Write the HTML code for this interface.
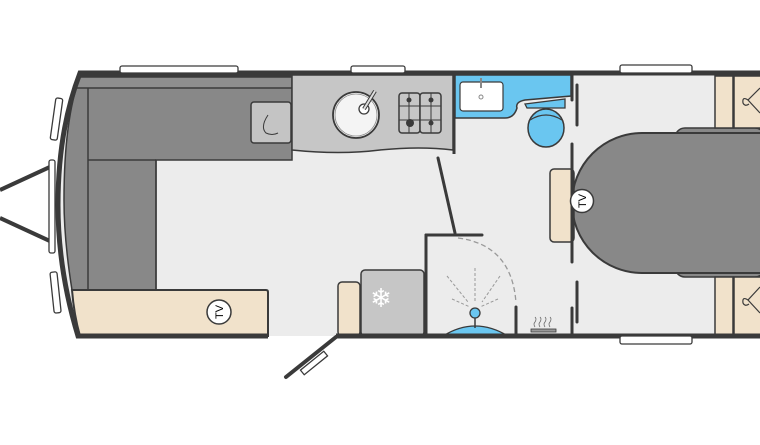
<!DOCTYPE html>
<html><head><meta charset="utf-8"><style>html,body{margin:0;padding:0;background:#fff}svg{display:block}</style></head>
<body>
<svg width="760" height="445" viewBox="0 0 760 445" xmlns="http://www.w3.org/2000/svg" font-family="Liberation Sans, sans-serif">
<!-- drawbar -->
<line x1="0" y1="190" x2="52" y2="166" stroke="#3a3a3a" stroke-width="4"/>
<line x1="0" y1="218" x2="52" y2="242" stroke="#3a3a3a" stroke-width="4"/>
<!-- floor -->
<path d="M80,73 L760,73 L760,336 L80,336 Q60,270 60,205 Q60,130 80,73 Z" fill="#ececec"/>
<!-- sofa dark -->
<path d="M80,76 L292,76 L292,160 L156,160 L156,290 L72,290 Q64,240 64,200 Q64,120 80,76 Z" fill="#888" stroke="#3a3a3a" stroke-width="1.5"/>
<path d="M78,77 L292,77 L292,88 L74,88" fill="#8e8e8e" stroke="#3a3a3a" stroke-width="1.5"/>
<line x1="88" y1="88" x2="88" y2="290" stroke="#3a3a3a" stroke-width="1.5"/>
<line x1="88" y1="160" x2="156" y2="160" stroke="#3a3a3a" stroke-width="1.5"/>
<line x1="156" y1="160" x2="156" y2="290" stroke="#3a3a3a" stroke-width="1.5"/>
<rect x="251" y="102" width="40" height="41" rx="3" fill="#c4c4c4" stroke="#3a3a3a" stroke-width="1.5"/>
<path d="M268,115 Q260,127 266,133 Q272,136 278,133" fill="none" stroke="#3a3a3a" stroke-width="1"/>
<!-- beige bench -->
<path d="M72,290 L266,290 Q268,290 268,292 L268,336 L80,336 Q74,315 72,290 Z" fill="#f1e2cb" stroke="#3a3a3a" stroke-width="2"/>
<circle cx="219" cy="312" r="12" fill="#fff" stroke="#3a3a3a" stroke-width="1.5"/>
<text x="0" y="0" font-size="11" text-anchor="middle" transform="translate(223,312) rotate(-90)">TV</text>
<!-- kitchen -->
<path d="M292,75 L453,75 L453,150 Q420,146 380,150 Q340,155 292,150 Z" fill="#c6c6c6" stroke="#3a3a3a" stroke-width="1.5"/>
<line x1="454" y1="75" x2="454" y2="154" stroke="#3a3a3a" stroke-width="3"/>
<circle cx="356" cy="115" r="23" fill="#f4f4f4" stroke="#3a3a3a" stroke-width="1.8"/>
<circle cx="356" cy="115" r="21" fill="none" stroke="#888" stroke-width="0.8"/>
<circle cx="364" cy="109" r="5" fill="#fff" stroke="#3a3a3a" stroke-width="1.3"/>
<line x1="364" y1="109" x2="375" y2="91" stroke="#3a3a3a" stroke-width="4"/>
<line x1="364" y1="109" x2="375" y2="91" stroke="#ddd" stroke-width="2"/>
<rect x="399" y="93" width="21" height="40" rx="3" fill="#c6c6c6" stroke="#3a3a3a" stroke-width="1.5"/>
<rect x="420" y="93" width="21" height="40" rx="3" fill="#c6c6c6" stroke="#3a3a3a" stroke-width="1.5"/>
<path d="M399,106 H441 M399,120 H441 M409,93 V133 M431,93 V133" stroke="#3a3a3a" stroke-width="1"/>
<circle cx="409" cy="100" r="2.5" fill="#3a3a3a"/><circle cx="431" cy="100" r="2.5" fill="#3a3a3a"/>
<circle cx="410" cy="123" r="4" fill="#3a3a3a"/><circle cx="431" cy="123" r="2.5" fill="#3a3a3a"/>
<!-- bathroom blue -->
<path d="M455,75 L571,75 L571,96 L525,100 Q515,102 517,108 Q514,118 505,118 L455,118 Z" fill="#6ac6f0" stroke="#3a3a3a" stroke-width="1.5"/>
<rect x="460" y="82" width="43" height="29" rx="3" fill="#fff" stroke="#3a3a3a" stroke-width="1.2"/>
<line x1="481" y1="78" x2="481" y2="88" stroke="#888" stroke-width="2"/>
<circle cx="481" cy="97" r="2" fill="none" stroke="#888"/>
<path d="M525,104 L565,99 L565,108 L527,108 Z" fill="#6ac6f0" stroke="#3a3a3a" stroke-width="1.3"/>
<ellipse cx="546" cy="128" rx="18" ry="19" fill="#6ac6f0" stroke="#3a3a3a" stroke-width="1.5"/>
<path d="M530,120 Q546,110 562,120" fill="none" stroke="#3a3a3a" stroke-width="1.3"/>
<!-- rear bed -->
<rect x="675" y="128" width="90" height="149" rx="10" fill="#888" stroke="#3a3a3a" stroke-width="1.5"/>
<path d="M642,133 L762,133 L762,273 L642,273 A70,70 0 0 1 642,133 Z" fill="#888" stroke="#3a3a3a" stroke-width="2"/>
<!-- wardrobes -->
<rect x="715" y="76" width="18" height="52" fill="#f1e2cb" stroke="#3a3a3a" stroke-width="1.5"/>
<rect x="734" y="76" width="28" height="52" fill="#f1e2cb" stroke="#3a3a3a" stroke-width="1.5"/>
<rect x="715" y="277" width="18" height="58" fill="#f1e2cb" stroke="#3a3a3a" stroke-width="1.5"/>
<rect x="734" y="277" width="28" height="58" fill="#f1e2cb" stroke="#3a3a3a" stroke-width="1.5"/>
<path d="M760,88 L748,100 L760,113 M748,100 Q742,96 743,103 Q745,107 749,104" fill="none" stroke="#3a3a3a" stroke-width="1.2"/>
<path d="M760,287 L748,300 L760,313 M748,300 Q742,296 743,303 Q745,307 749,304" fill="none" stroke="#3a3a3a" stroke-width="1.2"/>
<!-- cabinet + TV -->
<rect x="550" y="169" width="24" height="73" rx="4" fill="#f1e2cb" stroke="#3a3a3a" stroke-width="1.5"/>
<!-- partitions -->
<g stroke="#3a3a3a" stroke-width="3" stroke-linecap="round">
<line x1="572" y1="75" x2="572" y2="100"/>
<line x1="577" y1="85" x2="577" y2="125"/>
<line x1="572" y1="144" x2="572" y2="262"/>
<line x1="577" y1="282" x2="577" y2="322"/>
<line x1="572" y1="308" x2="572" y2="335"/>
<line x1="438" y1="158" x2="455" y2="233"/>
<line x1="426" y1="235" x2="482" y2="235"/>
<line x1="426" y1="235" x2="426" y2="336"/>
<line x1="516" y1="307" x2="516" y2="336"/>
<line x1="336" y1="337" x2="286" y2="377" stroke-width="4"/>
</g>
<circle cx="582" cy="201" r="11.5" fill="#fff" stroke="#3a3a3a" stroke-width="1.5"/>
<text x="0" y="0" font-size="11" text-anchor="middle" transform="translate(586,201) rotate(-90)">TV</text>
<rect x="299" y="360" width="30" height="6" fill="#fff" stroke="#3a3a3a" stroke-width="1.3" transform="rotate(-39 314 363)"/>
<!-- shower -->
<path d="M458,238 Q512,245 516,303" fill="none" stroke="#999" stroke-width="1.3" stroke-dasharray="5,3"/>
<g stroke="#999" stroke-width="1" stroke-dasharray="3,2">
<line x1="475" y1="268" x2="475" y2="302"/><line x1="447" y1="276" x2="468" y2="302"/>
<line x1="500" y1="276" x2="482" y2="302"/><line x1="452" y1="299" x2="470" y2="307"/><line x1="498" y1="299" x2="480" y2="307"/>
</g>
<path d="M443,336 Q475,316 508,336 Z" fill="#6ac6f0" stroke="#3a3a3a" stroke-width="1.3"/>
<line x1="475" y1="315" x2="475" y2="328" stroke="#3a3a3a" stroke-width="1.5"/>
<circle cx="475" cy="313" r="5" fill="#6ac6f0" stroke="#3a3a3a" stroke-width="1.3"/>
<!-- heater -->
<rect x="531" y="329" width="25" height="3" fill="#999" stroke="#3a3a3a" stroke-width="0.8"/>
<path d="M535,327 q-2,-3 0,-5 q2,-3 0,-5 M540,327 q-2,-3 0,-5 q2,-3 0,-5 M545,327 q-2,-3 0,-5 q2,-3 0,-5 M550,327 q-2,-3 0,-5 q2,-3 0,-5" fill="none" stroke="#666" stroke-width="0.8"/>
<!-- fridge -->
<rect x="338" y="282" width="22" height="54" rx="4" fill="#f1e2cb" stroke="#3a3a3a" stroke-width="1.5"/>
<rect x="361" y="270" width="63" height="66" rx="4" fill="#c6c6c6" stroke="#3a3a3a" stroke-width="1.5"/>
<text x="381" y="307" font-size="26" fill="#fff" text-anchor="middle">❄</text>
<!-- outer walls -->
<path d="M268,336 L78,336 Q58,270 58,205 Q58,130 80,73 L760,73" fill="none" stroke="#3a3a3a" stroke-width="5"/>
<line x1="336" y1="336" x2="760" y2="336" stroke="#3a3a3a" stroke-width="5"/>
<!-- windows -->
<g fill="#fff" stroke="#3a3a3a" stroke-width="1.3">
<rect x="120" y="66" width="118" height="7" rx="2"/>
<rect x="351" y="66" width="54" height="7" rx="2"/>
<rect x="620" y="65" width="72" height="8" rx="2"/>
<rect x="620" y="336" width="72" height="8" rx="2"/>
<rect x="53" y="98" width="7" height="42" rx="2" transform="rotate(8 56 119)"/>
<rect x="49" y="160" width="6" height="93" rx="2"/>
<rect x="52" y="272" width="7" height="41" rx="2" transform="rotate(-6 55 292)"/>
</g>
</svg>
</body></html>
